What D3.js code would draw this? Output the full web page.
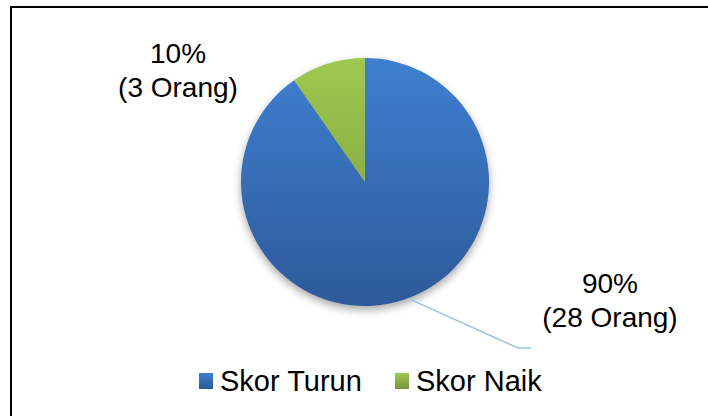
<!DOCTYPE html>
<html>
<head>
<meta charset="utf-8">
<script src="https://cdn.jsdelivr.net/npm/d3@7"></script>
<style>
  body { margin: 0; background: #fff; }
  text { font-family: "Liberation Sans", Arial, sans-serif; fill: #000; }
</style>
</head>
<body>
<svg width="708" height="416"></svg>
<script>
// data
var categories = ['Skor Turun', 'Skor Naik'];
var counts = [28, 3];
var percentLabels = ['90%', '10%'];
var countLabels = ['(28 Orang)', '(3 Orang)'];

var svg = d3.select('svg');

// outer frame (runs off the right and bottom edges)
svg.append('rect')
    .attr('x', 11).attr('y', 7)
    .attr('width', 720).attr('height', 430)
    .style('fill', 'none')
    .style('stroke', '#000')
    .style('stroke-width', 2);

var defs = svg.append('defs');

var cx = 365, cy = 182, radius = 124;

var gradStops = {
    'Skor Turun': ['#3f7fd0', '#2d5a99'],
    'Skor Naik': ['#a0c850', '#76963a']
};
categories.forEach(function(c, i){
    var g = defs.append('linearGradient')
        .attr('id', 'grad' + i)
        .attr('gradientUnits', 'userSpaceOnUse')
        .attr('x1', 0).attr('y1', -radius).attr('x2', 0).attr('y2', radius);
    g.append('stop').attr('offset', '0%').attr('stop-color', gradStops[c][0]);
    g.append('stop').attr('offset', '100%').attr('stop-color', gradStops[c][1]);

    var lg = defs.append('linearGradient')
        .attr('id', 'legendGrad' + i)
        .attr('x1', 0).attr('y1', 0).attr('x2', 0).attr('y2', 1);
    lg.append('stop').attr('offset', '0%').attr('stop-color', gradStops[c][0]);
    lg.append('stop').attr('offset', '100%').attr('stop-color', gradStops[c][1]);
});

var blur = defs.append('filter').attr('id', 'shadow')
    .attr('x', '-20%').attr('y', '-20%').attr('width', '140%').attr('height', '140%');
blur.append('feGaussianBlur').attr('stdDeviation', 4);

var pie = d3.pie().sort(null).value(function(d){ return d; });
var arcs = pie(counts);
var arc = d3.arc().innerRadius(0).outerRadius(radius);

var chart = svg.append('g').attr('transform', 'translate(' + cx + ',' + cy + ')');

// soft shadow under the pie
chart.append('circle')
    .attr('cx', 0).attr('cy', 4)
    .attr('r', radius)
    .style('fill', '#000')
    .style('opacity', 0.35)
    .attr('filter', 'url(#shadow)');

chart.selectAll('path.slice')
    .data(arcs)
    .enter().append('path')
    .attr('class', 'slice')
    .attr('d', arc)
    .style('fill', function(d, i){ return 'url(#grad' + i + ')'; });

// leader line for the big slice
var labelAngle = (arcs[0].startAngle + arcs[0].endAngle) / 2 - 0.05;
var edge = d3.arc().innerRadius(radius).outerRadius(radius)
    .centroid({startAngle: labelAngle, endAngle: labelAngle});
chart.append('polyline')
    .attr('points', [edge, [153, 166], [166, 166]].map(function(p){ return p.join(','); }).join(' '))
    .style('fill', 'none')
    .style('stroke', '#9dc3e6')
    .style('stroke-width', 1.5);

// slice labels
var labelPos = [[245, 111], [-187, -119]];
arcs.forEach(function(a, i){
    var t = chart.append('text')
        .attr('text-anchor', 'middle')
        .style('font-size', '28px');
    t.append('tspan').attr('x', labelPos[i][0]).attr('y', labelPos[i][1]).text(percentLabels[i]);
    t.append('tspan').attr('x', labelPos[i][0]).attr('dy', 34).text(countLabels[i]);
});

// legend
var legend = svg.append('g').attr('transform', 'translate(199,373)');
var legendX = [0, 196];
categories.forEach(function(c, i){
    var item = legend.append('g').attr('transform', 'translate(' + legendX[i] + ',0)');
    item.append('rect')
        .attr('width', 14).attr('height', 16)
        .style('fill', 'url(#legendGrad' + i + ')');
    item.append('text')
        .attr('x', 21).attr('y', 18)
        .style('font-size', '29px')
        .text(c);
});
</script>
</body>
</html>
